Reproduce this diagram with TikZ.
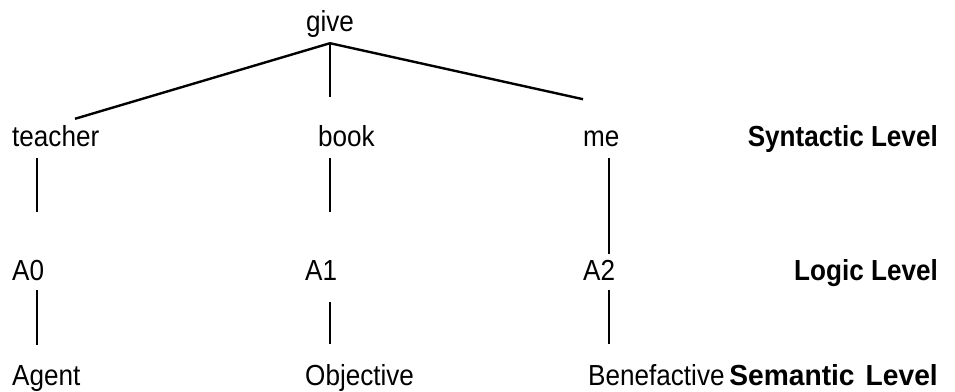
\documentclass[tikz,border=0pt]{standalone}
\usepackage{fontspec}
\setmainfont{Liberation Sans}[FakeStretch=0.9]
\begin{document}
\begin{tikzpicture}[x=1pt,y=-1pt,
  lbl/.style={inner sep=0pt, font=\fontsize{29}{32}\selectfont},
  lvl/.style={inner sep=0pt, font=\fontsize{29}{32}\selectfont\bfseries, anchor=base east},
  tree/.style={line width=2.4pt},
  stem/.style={line width=1.6pt}]
\useasboundingbox (0,0) rectangle (955,391);
% top
\node[lbl, anchor=base] (give) at (330,31) {give};
% row 1
\node[lbl, anchor=base west] (teacher) at (12,146) {teacher};
\node[lbl, anchor=base west] (book) at (318,146) {book};
\node[lbl, anchor=base west] (me) at (583,146) {me};
\node[lvl] (syn) at (938,146) {Syntactic Level};
% row 2
\node[lbl, anchor=base west] (a0) at (12,280) {A0};
\node[lbl, anchor=base west] (a1) at (305,280) {A1};
\node[lbl, anchor=base west] (a2) at (583,280) {A2};
\node[lvl] (logic) at (938,280) {Logic Level};
% row 3
\node[lbl, anchor=base west] (agent) at (12,385) {Agent};
\node[lbl, anchor=base west] (objective) at (305,385) {Objective};
\node[lbl, anchor=base west] (benef) at (588,385) {Benefactive};
\node[lvl] (sem) at (938,385) {\scalebox{1.08}[1]{Semantic\hspace{3pt} Level}};
% tree lines
\coordinate (apex) at ([yshift=-6pt]give.south);
\coordinate (midend) at ([yshift=28pt]book.north);
\draw[tree] (apex) -- ([xshift=63pt,yshift=6pt]teacher.north west);
\draw[stem] (apex) -- (apex |- midend);
\draw[tree] (apex) -- ([yshift=31pt]me.north west);
% stems teacher column
\draw[stem] ([xshift=25pt,yshift=-12pt]teacher.south west) -- ([xshift=25pt,yshift=48pt]a0.north west);
\draw[stem] ([xshift=25pt,yshift=-10pt]a0.south west) -- ([xshift=25pt,yshift=20pt]agent.north west);
% book column
\draw[stem] ([xshift=12pt,yshift=-12pt]book.south west) -- ([xshift=25pt,yshift=48pt]a1.north west);
\draw[stem] ([xshift=25pt,yshift=-22pt]a1.south west) -- ([xshift=25pt,yshift=20pt]objective.north west);
% me column
\draw[stem] ([xshift=26pt,yshift=-12pt]me.south west) -- ([xshift=26pt,yshift=6pt]a2.north west);
\draw[stem] ([xshift=26pt,yshift=-10pt]a2.south west) -- ([xshift=21pt,yshift=20pt]benef.north west);
\end{tikzpicture}
\end{document}
